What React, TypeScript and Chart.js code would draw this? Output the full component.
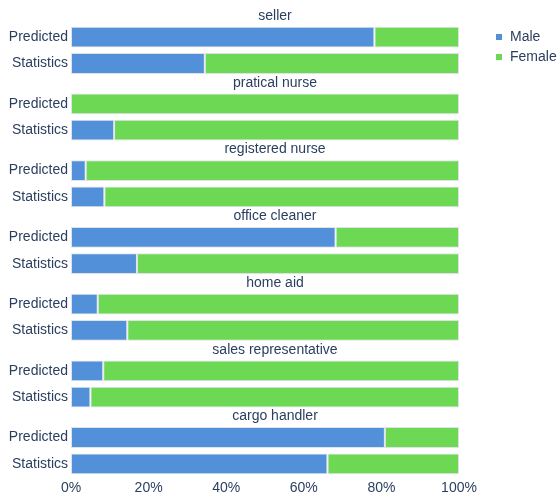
import React, { useEffect, useRef } from 'react';
import { Chart, registerables } from 'chart.js';

Chart.register(...registerables);

// ---- data ----
const occupations = [
  'seller',
  'pratical nurse',
  'registered nurse',
  'office cleaner',
  'home aid',
  'sales representative',
  'cargo handler',
];
const rowLabels = ['Predicted', 'Statistics'];
const predictedMale = [78.2, 0, 3.8, 68.2, 6.9, 8.3, 80.9];
const predictedFemale = [21.8, 100, 96.2, 31.8, 93.1, 91.7, 19.1];
const statisticsMale = [34.5, 11.1, 8.6, 17.0, 14.5, 5.0, 66.1];
const statisticsFemale = [65.5, 88.9, 91.4, 83.0, 85.5, 95.0, 33.9];
const xTickValues = [0, 20, 40, 60, 80, 100];
const seriesNames = ['Male', 'Female'];

// ---- style / layout ----
const seriesColors = ['#5290d9', '#6dd854'];
const TEXT = '#2a3f5f';
const FONT_FAMILY = '"Liberation Sans", Arial, Helvetica, sans-serif';
const GROUP_PITCH = 2.535; // distance between subplots, in bar-slot units
const TITLE_OFFSET = 0.8; // title above first bar, in bar-slot units
const TITLE_SHIFT_X = 10;

const slot = (g: number, r: number) => g * GROUP_PITCH + r;

const subplotTitles = {
  id: 'subplotTitles',
  afterDatasetsDraw(chart: any) {
    const { ctx, chartArea, scales } = chart;
    const y = scales.y;
    ctx.save();
    ctx.font = `14px ${FONT_FAMILY}`;
    ctx.fillStyle = TEXT;
    ctx.textAlign = 'center';
    ctx.textBaseline = 'middle';
    const cx = (chartArea.left + chartArea.right) / 2 + TITLE_SHIFT_X;
    occupations.forEach((name, g) => {
      ctx.fillText(name, cx, y.getPixelForValue(slot(g, 0) - TITLE_OFFSET));
    });
    ctx.restore();
  },
};

const sideLegend = {
  id: 'sideLegend',
  afterDraw(chart: any) {
    const { ctx, chartArea } = chart;
    ctx.save();
    ctx.font = `14px ${FONT_FAMILY}`;
    ctx.textAlign = 'left';
    ctx.textBaseline = 'middle';
    const x0 = chartArea.right + 37;
    chart.data.datasets.forEach((ds: any, i: number) => {
      const cy = 37 + i * 20;
      ctx.fillStyle = ds.backgroundColor;
      ctx.fillRect(x0, cy - 3, 6, 6);
      ctx.fillStyle = TEXT;
      ctx.fillText(ds.label, x0 + 14, cy);
    });
    ctx.restore();
  },
};

export default function App() {
  const ref = useRef<HTMLCanvasElement | null>(null);

  useEffect(() => {
    if (!ref.current) return;
    const build = (pred: number[], stat: number[]) =>
      occupations.flatMap((_, g) => [
        { x: pred[g], y: slot(g, 0) },
        { x: stat[g], y: slot(g, 1) },
      ]);

    const chart = new Chart(ref.current, {
      type: 'bar',
      data: {
        datasets: [
          {
            label: seriesNames[0],
            data: build(predictedMale, statisticsMale),
            backgroundColor: seriesColors[0],
            borderColor: '#dfe3e8',
            borderWidth: 1,
            borderSkipped: false,
          },
          {
            label: seriesNames[1],
            data: build(predictedFemale, statisticsFemale),
            backgroundColor: seriesColors[1],
            borderColor: '#dfe3e8',
            borderWidth: 1,
            borderSkipped: false,
          },
        ],
      } as any,
      options: {
        indexAxis: 'y',
        animation: false,
        responsive: false,
        maintainAspectRatio: false,
        layout: { padding: { top: 24, right: 99, left: 0, bottom: 0 } },
        datasets: { bar: { categoryPercentage: 1, barPercentage: 0.79 } },
        plugins: {
          legend: { display: false },
          tooltip: { enabled: false },
        },
        scales: {
          y: {
            type: 'linear',
            reverse: true,
            stacked: true,
            offset: false,
            min: -0.5,
            max: slot(occupations.length - 1, 1) + 0.5,
            grid: { display: false, drawTicks: false, offset: false },
            border: { display: false },
            afterBuildTicks: (scale: any) => {
              scale.ticks = occupations.flatMap((_, g) =>
                rowLabels.map((_l, r) => ({ value: slot(g, r) }))
              );
            },
            afterFit: (scale: any) => {
              scale.width = 71;
            },
            ticks: {
              autoSkip: false,
              padding: 3,
              color: TEXT,
              font: { size: 14, family: FONT_FAMILY },
              callback: (_v: any, i: number) => rowLabels[i % 2],
            },
          },
          x: {
            type: 'linear',
            stacked: true,
            min: 0,
            max: 100,
            grid: { display: false, drawTicks: false },
            border: { display: false },
            afterBuildTicks: (scale: any) => {
              scale.ticks = xTickValues.map((v) => ({ value: v }));
            },
            afterFit: (scale: any) => {
              scale.height = 17;
            },
            ticks: {
              padding: 3,
              color: TEXT,
              font: { size: 14, family: FONT_FAMILY },
              callback: (v: any) => `${v}%`,
            },
          },
        },
      } as any,
      plugins: [subplotTitles, sideLegend],
    });
    return () => chart.destroy();
  }, []);

  return (
    <div style={{ position: 'absolute', left: 0, top: 0, width: 558, height: 494 }}>
      <canvas ref={ref} width={558} height={494} style={{ display: 'block' }} />
    </div>
  );
}
